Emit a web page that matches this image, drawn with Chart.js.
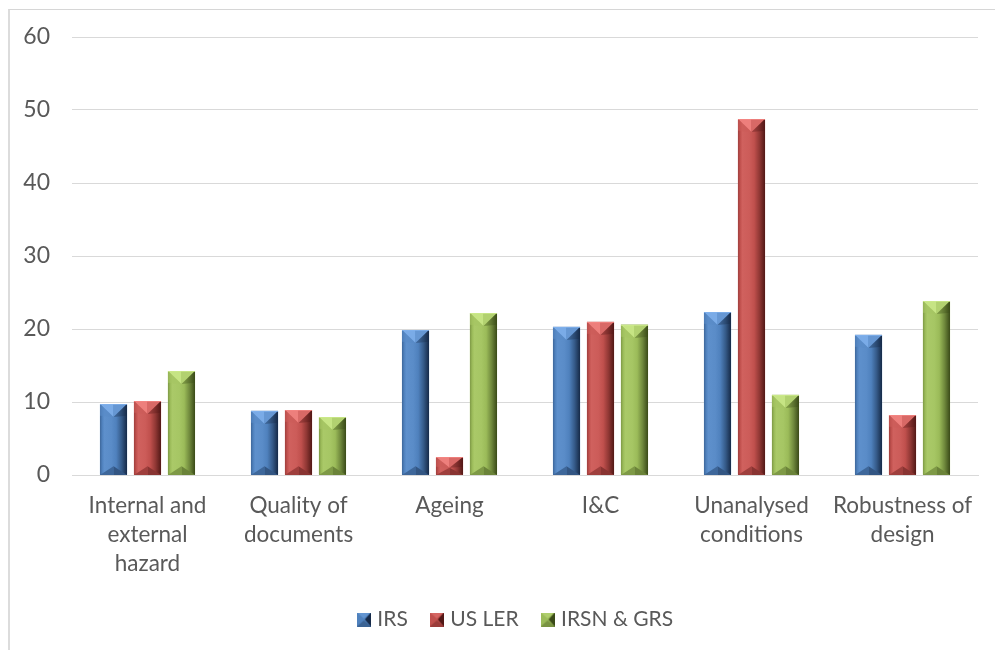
<!DOCTYPE html>
<html>
<head>
<meta charset="utf-8">
<script src="https://cdn.jsdelivr.net/npm/chart.js@4.4.1/dist/chart.umd.min.js"></script>
<style>
  html, body { margin: 0; padding: 0; background: #ffffff; overflow: hidden; }
  #wrap { position: relative; width: 995px; height: 650px; }
  #frame { position: absolute; left: 8px; top: 9px; width: 1100px; height: 800px;
           border-left: 2px solid #dcdcdc; border-top: 1px solid #d6d6d6; box-sizing: border-box; }
  #chart { position: absolute; left: 0; top: 0; }
</style>
</head>
<body>
<div id="wrap">
  <div id="frame"></div>
  <canvas id="chart" width="995" height="650"></canvas>
</div>
<script>
// Categories and series
const categories = [
  ["Internal and", "external", "hazard"],
  ["Quality of", "documents"],
  "Ageing",
  "I&C",
  ["Unanalysed", "conditions"],
  ["Robustness of", "design"]
];
const seriesNames = ["IRS", "US LER", "IRSN & GRS"];
const irs     = [9.7, 8.8, 19.8, 20.3, 22.3, 19.2];
const usLer   = [10.1, 8.9, 2.4, 21.0, 48.7, 8.2];
const irsnGrs = [14.2, 7.9, 22.2, 20.6, 11.0, 23.8];
const yTicks  = [0, 10, 20, 30, 40, 50, 60];

// Colour sets for the bevelled bars: base, highlight, shadow
const palettes = [
  { base: [79, 129, 189],  light: [130, 178, 238], dark: [22, 42, 72] },
  { base: [192, 80, 77],   light: [245, 135, 132], dark: [82, 24, 22] },
  { base: [155, 187, 89],  light: [205, 235, 140], dark: [58, 74, 24] }
];

const rgb = (c, a) => `rgba(${c[0]},${c[1]},${c[2]},${a === undefined ? 1 : a})`;
const mix = (c1, c2, t) => c1.map((v, i) => Math.round(v + (c2[i] - v) * t));

function tri(ctx, a, b, c, fill) {
  ctx.fillStyle = fill;
  ctx.beginPath();
  ctx.moveTo(a[0], a[1]); ctx.lineTo(b[0], b[1]); ctx.lineTo(c[0], c[1]);
  ctx.closePath();
  ctx.fill();
}

// Paint one bevelled rectangle
function drawBevel(ctx, left, top, right, bottom, pal) {
  const w = right - left, h = bottom - top;
  if (w <= 0 || h <= 0) return;
  ctx.save();
  // body: left-to-right shading
  const g = ctx.createLinearGradient(left, 0, right, 0);
  g.addColorStop(0, rgb(mix(pal.base, pal.dark, 0.3)));
  g.addColorStop(0.08, rgb(pal.base));
  g.addColorStop(0.16, rgb(mix(pal.base, pal.light, 0.3)));
  g.addColorStop(0.42, rgb(mix(pal.base, pal.light, 0.22)));
  g.addColorStop(0.6, rgb(pal.base));
  g.addColorStop(0.8, rgb(mix(pal.base, pal.dark, 0.45)));
  g.addColorStop(1, rgb(pal.dark));
  ctx.fillStyle = g;
  ctx.fillRect(left, top, w, h);

  const cx = left + w / 2;
  const dTop = Math.min(w * 0.48, h * 0.6);
  const dBot = Math.min(w * 0.32, h * 0.4);

  // top facet: lighter on the left half, slightly muted on the right
  tri(ctx, [left, top], [cx, top], [cx, top + dTop], rgb(mix(pal.base, pal.light, 0.85)));
  tri(ctx, [cx, top], [right, top], [cx, top + dTop], rgb(mix(pal.base, pal.light, 0.45)));
  tri(ctx, [left, top], [cx, top + dTop], [left, top + dTop * 0.9], rgb(mix(pal.base, pal.light, 0.2), 0.6));
  tri(ctx, [right, top], [cx, top + dTop], [right, top + dTop * 0.9], rgb(pal.dark, 0.35));

  // bottom facet: darker
  tri(ctx, [left, bottom], [cx, bottom], [cx, bottom - dBot], rgb(mix(pal.base, pal.dark, 0.3)));
  tri(ctx, [cx, bottom], [right, bottom], [cx, bottom - dBot], rgb(mix(pal.base, pal.dark, 0.5)));

  // thin highlight along top edge
  ctx.fillStyle = rgb(pal.light, 0.7);
  ctx.fillRect(left, top, w, 1);
  ctx.restore();
}

// Bevel overlay on every bar, placed from the bar elements' own geometry
const bevelPlugin = {
  id: 'bevel',
  afterDatasetsDraw(chart) {
    const ctx = chart.ctx;
    chart.data.datasets.forEach((ds, di) => {
      const meta = chart.getDatasetMeta(di);
      if (meta.hidden) return;
      meta.data.forEach(bar => {
        const p = bar.getProps(['x', 'y', 'base', 'width'], true);
        const left = Math.round(p.x - p.width / 2);
        const right = Math.round(p.x + p.width / 2);
        const top = Math.round(Math.min(p.y, p.base));
        const bottom = Math.round(Math.max(p.y, p.base));
        drawBevel(ctx, left, top, right, bottom, palettes[di]);
      });
    });
  }
};

// Centre the legend row under the framed chart rather than the full canvas
const legendShift = {
  id: 'legendShift',
  beforeDraw(chart) {
    if (chart.legend) chart.legend.left += 56;
  }
};

// Small bevelled squares for the legend
function legendSwatch(pal) {
  const c = document.createElement('canvas');
  c.width = 14; c.height = 14;
  const x = c.getContext('2d');
  x.fillStyle = rgb(pal.base);
  x.fillRect(0, 0, 14, 14);
  tri(x, [0, 0], [14, 0], [7, 6], rgb(mix(pal.base, pal.light, 0.4)));
  tri(x, [0, 14], [14, 14], [7, 8], rgb(mix(pal.base, pal.dark, 0.35)));
  tri(x, [14, 0], [14, 14], [8, 7], rgb(pal.dark));
  return c;
}
const swatches = palettes.map(legendSwatch);

const seriesValues = [irs, usLer, irsnGrs];
const datasets = seriesValues.map((vals, i) => ({
  label: seriesNames[i],
  data: vals,
  backgroundColor: rgb(palettes[i].base),
  borderWidth: 0,
  categoryPercentage: 0.675,
  barPercentage: 0.8
}));

const FONT = 'Lato, "Liberation Sans", sans-serif';
const TEXT = '#595959';

new Chart(document.getElementById('chart'), {
  type: 'bar',
  data: { labels: categories, datasets },
  plugins: [bevelPlugin, legendShift],
  options: {
    responsive: false,
    animation: false,
    events: [],
    layout: { padding: { left: 0, right: 17, top: 37, bottom: 10 } },
    scales: {
      x: {
        afterFit(scale) { scale.height = scale.height - 11; },
        grid: { display: false, drawTicks: false },
        border: { display: true, color: '#d9d9d9', width: 1 },
        ticks: {
          color: TEXT,
          font: { family: FONT, size: 22.5, lineHeight: '29px' },
          padding: 16,
          maxRotation: 0,
          autoSkip: false
        }
      },
      y: {
        min: 0,
        max: 60,
        afterFit(scale) { scale.width = 72; },
        afterBuildTicks(scale) { scale.ticks = yTicks.map(v => ({ value: v })); },
        grid: { color: '#d9d9d9', lineWidth: 1, drawTicks: false },
        border: { display: false },
        ticks: {
          color: TEXT,
          font: { family: FONT, size: 23 },
          padding: 22
        }
      }
    },
    plugins: {
      tooltip: { enabled: false },
      legend: {
        position: 'bottom',
        labels: {
          usePointStyle: true,
          pointStyleWidth: 6,
          boxHeight: 14,
          padding: 26,
          color: TEXT,
          font: { family: FONT, size: 21 },
          generateLabels(chart) {
            const items = Chart.defaults.plugins.legend.labels.generateLabels(chart);
            items.forEach((it, i) => { it.pointStyle = swatches[i]; });
            return items;
          }
        }
      }
    }
  }
});
</script>
</body>
</html>
